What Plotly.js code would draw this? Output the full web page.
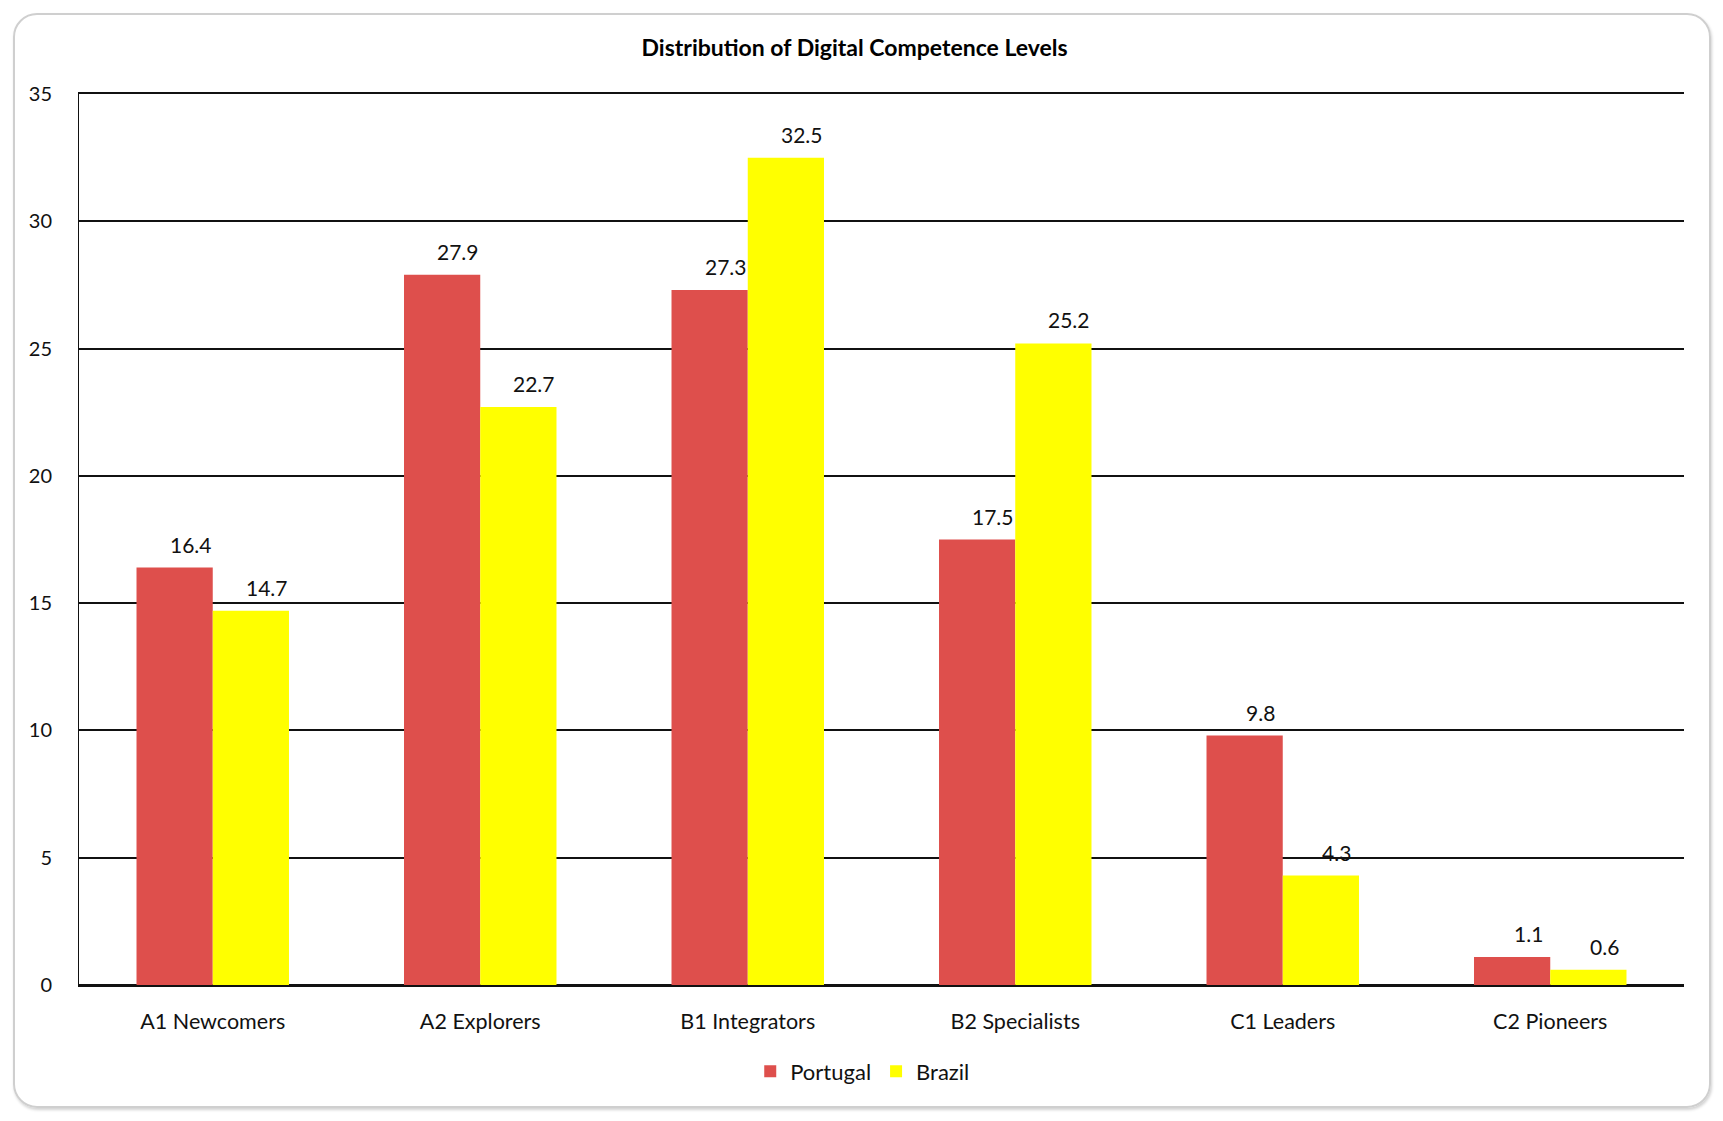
<!DOCTYPE html>
<html>
<head>
<meta charset="utf-8">
<script src="https://cdn.plot.ly/plotly-3.0.1.min.js"></script>
<style>
  body { margin: 0; background: #ffffff; }
  #marco {
    position: absolute; left: 13px; top: 13px; width: 1694px; height: 1091px;
    border: 2px solid #cfcfcf; border-radius: 24px;
    box-shadow: 1px 2px 3px rgba(0,0,0,0.18);
  }
  #grafica { position: absolute; left: 0; top: 0; width: 1723px; height: 1121px; }
</style>
</head>
<body>
<div id="marco"></div>
<div id="grafica"></div>
<script>
// Datos
const niveles = ['A1 Newcomers', 'A2 Explorers', 'B1 Integrators', 'B2 Specialists', 'C1 Leaders', 'C2 Pioneers'];
const portugal = [16.4, 27.9, 27.3, 17.5, 9.8, 1.1];
const brasil = [14.7, 22.7, 32.5, 25.2, 4.3, 0.6];
const ticksY = [0, 5, 10, 15, 20, 25, 30, 35];

const fuente = 'Lato, "Open Sans", sans-serif';

const traces = [
    { type: 'bar', name: 'Portugal', x: niveles, y: portugal, marker: { color: '#DE4F4C' } },
    { type: 'bar', name: 'Brazil', x: niveles, y: brasil, marker: { color: '#FFFF00' } }
];

// Etiquetas de valor encima de cada barra
const anotaciones = [];
niveles.forEach((n, i) => {
    anotaciones.push({ x: n, y: portugal[i], text: portugal[i].toFixed(1), showarrow: false,
        xref: 'x', yref: 'y', yanchor: 'bottom', xshift: -22, yshift: 9,
        font: { family: fuente, size: 21, color: '#111' } });
    anotaciones.push({ x: n, y: brasil[i], text: brasil[i].toFixed(1), showarrow: false,
        xref: 'x', yref: 'y', yanchor: 'bottom', xshift: 54, yshift: 9,
        font: { family: fuente, size: 21, color: '#111' } });
});

const layout = {
    width: 1723, height: 1121,
    margin: { l: 79, r: 39, t: 94, b: 136 },
    paper_bgcolor: 'rgba(0,0,0,0)',
    plot_bgcolor: 'rgba(0,0,0,0)',
    font: { family: fuente, size: 21, color: '#111' },
    title: { text: '<b>Distribution of Digital Competence Levels</b>', x: 0.496, xanchor: 'center',
        y: 1 - 48 / 1121, yanchor: 'middle', font: { family: fuente, size: 23, color: '#000' } },
    barmode: 'group',
    bargap: 0.43,
    bargroupgap: 0,
    xaxis: {
        type: 'category', showgrid: false, ticks: '', ticklabelstandoff: 16,
        showline: true, mirror: true, linecolor: '#111', linewidth: 2,
        tickfont: { family: fuente, size: 21.5, color: '#111' }
    },
    yaxis: {
        range: [0, 35], tickvals: ticksY, ticks: '', ticklabelstandoff: 22,
        showgrid: true, gridcolor: '#111', gridwidth: 2,
        zeroline: true, zerolinecolor: '#111', zerolinewidth: 2,
        showline: true, linecolor: '#111', linewidth: 1,
        tickfont: { family: fuente, size: 20, color: '#111' }
    },
    showlegend: true,
    legend: { orientation: 'h', x: 0.488, xanchor: 'center', y: -0.097, yanchor: 'middle',
        font: { family: fuente, size: 22, color: '#111' }, itemwidth: 30, tracegroupgap: 0 },
    annotations: anotaciones
};

Plotly.newPlot('grafica', traces, layout, { displayModeBar: false });
</script>
</body>
</html>
